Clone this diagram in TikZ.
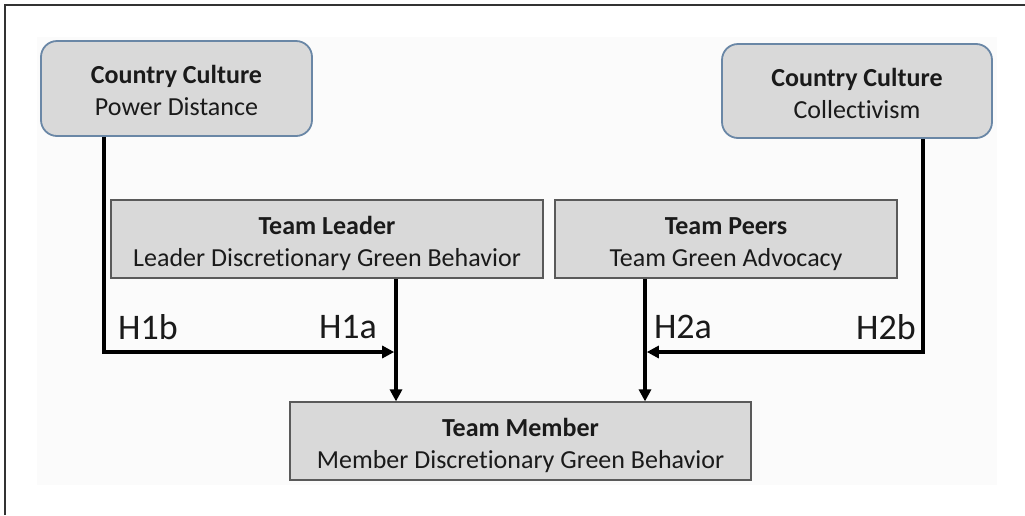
\documentclass[tikz,border=0pt]{standalone}
\usepackage{fontspec}
\setmainfont[Ligatures=NoCommon]{Carlito}
\usetikzlibrary{arrows.meta}
\definecolor{boxfill}{HTML}{D9D9D9}
\definecolor{roundedge}{HTML}{6A87A6}
\definecolor{squareedge}{HTML}{5A5A5A}
\definecolor{textdark}{HTML}{1A1A1A}
\newcommand\toprule{\rule{0pt}{29pt}}
\newcommand\botrule{\rule[-7pt]{0pt}{7pt}}
\tikzset{
  culturebox/.style={draw=roundedge, line width=1.8pt, fill=boxfill, rounded corners=16pt,
    align=center, inner sep=0pt, text=textdark, font=\fontsize{26}{32}\selectfont},
  teambox/.style={draw=squareedge, line width=1.2pt, fill=boxfill,
    align=center, inner sep=0pt, text=textdark, font=\fontsize{26}{32}\selectfont},
  conn/.style={line width=3.6pt, black},
  arrowconn/.style={conn, -{Triangle[length=12pt,width=12pt]}},
  hlabel/.style={font=\fontsize{36}{38}\selectfont, text=textdark, inner sep=0pt}
}
\begin{document}
\begin{tikzpicture}[x=1pt,y=-1pt]
\useasboundingbox (0,0) rectangle (1025,515);
\fill[white] (0,0) rectangle (1025,515);
% faint inner panel
\fill[black!1.5] (37,37) rectangle (997,485);
% outer frame lines
\draw[line width=2pt, black!80] (5,515) -- (5,5) -- (1025,5);

\node[culturebox, minimum width=271pt, minimum height=95pt] (pd) at (176.5,88.5)
  {\toprule\textbf{Country Culture}\\Power Distance\botrule};
\node[culturebox, minimum width=270pt, minimum height=94pt] (coll) at (857,91)
  {\toprule\textbf{Country Culture}\\Collectivism\botrule};
\node[teambox, minimum width=432pt, minimum height=78pt] (leader) at (327,239)
  {\toprule\textbf{Team Leader}\\Leader Discretionary Green Behavior\botrule};
\node[teambox, minimum width=342pt, minimum height=78pt] (peers) at (726,239)
  {\toprule\textbf{Team Peers}\\Team Green Advocacy\botrule};
\node[teambox, minimum width=461pt, minimum height=78pt] (member) at (520.5,441)
  {\toprule\textbf{Team Member}\\Member Discretionary Green Behavior\botrule};

\coordinate (j1) at (396,352);
\coordinate (j2) at (645,352);

\draw[arrowconn] (leader.south -| j1) -- (member.north -| j1);
\draw[arrowconn] (peers.south -| j2) -- (member.north -| j2);
\draw[arrowconn, shorten >=1.8pt] ([xshift=-72.5pt]pd.south) |- (j1);
\draw[arrowconn, shorten >=1.8pt] ([xshift=66pt]coll.south) |- (j2);

\node[hlabel] (h1b) at (148,327) {H1b};
\node[hlabel] (h1a) at (348,327) {H1a};
\node[hlabel] (h2a) at (683,327) {H2a};
\node[hlabel] (h2b) at (886,327) {H2b};
\end{tikzpicture}
\end{document}
